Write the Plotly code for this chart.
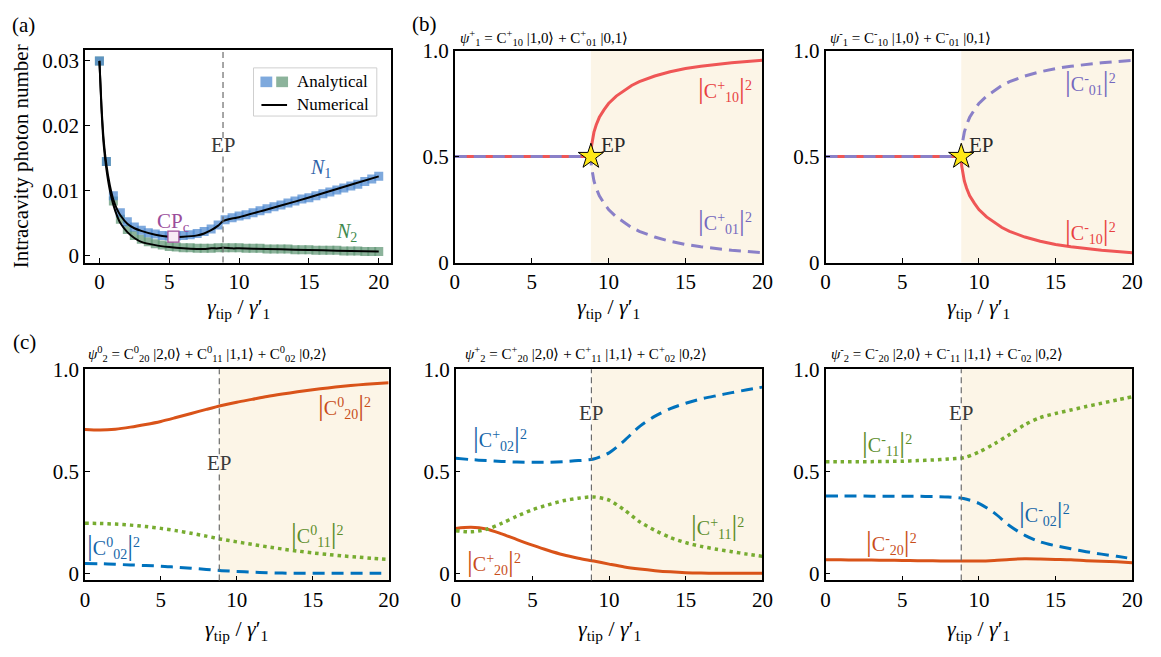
import plotly.graph_objects as go

W, H = 1161, 657
FONT = "Liberation Serif, Times New Roman, Times, serif"
EP = 8.85

# ---------------- Panel (a) data ----------------
xa_sq = [0, 0.5, 1, 1.5, 2, 2.5, 3, 3.5, 4, 4.5, 5, 5.5, 6, 6.5, 7, 7.5, 8, 8.5, 9, 9.5, 10,
         10.5, 11, 11.5, 12, 12.5, 13, 13.5, 14, 14.5, 15, 15.5, 16, 16.5, 17, 17.5, 18, 18.5, 19, 19.5, 20]
N1_sq = [0.0300, 0.0145, 0.0092, 0.0066, 0.0052, 0.0044, 0.0039, 0.0035, 0.0033, 0.0031, 0.0030,
         0.0030, 0.0031, 0.0032, 0.0034, 0.0037, 0.0041, 0.0047, 0.0055, 0.0058, 0.0061,
         0.0063, 0.0066, 0.0069, 0.0072, 0.0075, 0.0078, 0.0081, 0.0084, 0.0087, 0.0089,
         0.0092, 0.0095, 0.0098, 0.0101, 0.0104, 0.0107, 0.0110, 0.0114, 0.0118, 0.0122]
N2_sq = [0.0300, 0.0145, 0.0084, 0.0056, 0.0040, 0.0031, 0.0025, 0.0021, 0.0018, 0.0016, 0.0014,
         0.0013, 0.0012, 0.0012, 0.0011, 0.0011, 0.0011, 0.0012, 0.0012, 0.0012, 0.0012,
         0.0011, 0.0011, 0.0011, 0.0010, 0.0010, 0.0010, 0.0010, 0.0009, 0.0009, 0.0009,
         0.0008, 0.0008, 0.0008, 0.0008, 0.0007, 0.0007, 0.0007, 0.0006, 0.0006, 0.0006]
xa_line = [0, 0.15, 0.3, 0.5, 0.75, 1.0, 1.25, 1.5, 2.0, 2.5, 3.0, 4.0, 5.0, 6.0, 7.0, 7.5, 8.0,
           8.5, 8.85, 9.5, 10, 12, 14, 16, 18, 20]
N1_line = [0.0300, 0.0230, 0.0180, 0.0140, 0.0108, 0.0086, 0.0072, 0.0062, 0.0049, 0.0042, 0.0038,
           0.0032, 0.0029, 0.0029, 0.0031, 0.0034, 0.0039, 0.0046, 0.0053, 0.0057, 0.0059,
           0.0071, 0.0083, 0.0096, 0.0109, 0.0122]
N2_line = [0.0300, 0.0225, 0.0172, 0.0133, 0.0100, 0.0078, 0.0062, 0.0050, 0.0036, 0.0027, 0.0021,
           0.0016, 0.0013, 0.0011, 0.0010, 0.0010, 0.0011, 0.0011, 0.0012, 0.0011, 0.0011,
           0.0010, 0.0009, 0.0008, 0.0007, 0.0006]
CPc_x, CPc_y = [5.3], [0.0029]

# ---------------- Panel (b) data ----------------
xb = [0, 8.85, 8.88, 8.95, 9.05, 9.2, 9.4, 9.7, 10, 10.5, 11, 11.5, 12, 13, 14, 15, 16, 17, 18, 19, 20]
C_major = [0.5, 0.5, 0.545, 0.58, 0.615, 0.65, 0.685, 0.72, 0.75, 0.785, 0.812, 0.835, 0.853,
           0.88, 0.90, 0.915, 0.926, 0.935, 0.942, 0.948, 0.954]
C_minor = [0.5, 0.5, 0.455, 0.42, 0.385, 0.35, 0.315, 0.28, 0.25, 0.215, 0.188, 0.165, 0.147,
           0.12, 0.10, 0.085, 0.074, 0.065, 0.058, 0.052, 0.046]
EP_y = [0.5]

# ---------------- Panel (c) data ----------------
xc = [0, 1, 2, 3, 4, 5, 6, 7, 8, 9, 10, 11, 12, 13, 14, 15, 16, 17, 18, 19, 20]
c0_C20 = [0.705, 0.702, 0.706, 0.716, 0.729, 0.744, 0.763, 0.783, 0.803, 0.822, 0.838, 0.852,
          0.866, 0.878, 0.889, 0.899, 0.908, 0.916, 0.923, 0.929, 0.934]
c0_C11 = [0.245, 0.244, 0.241, 0.236, 0.229, 0.220, 0.209, 0.196, 0.182, 0.167, 0.154, 0.142,
          0.130, 0.119, 0.109, 0.100, 0.092, 0.085, 0.079, 0.073, 0.068]
c0_C02 = [0.048, 0.047, 0.044, 0.041, 0.038, 0.035, 0.030, 0.025, 0.019, 0.013, 0.009, 0.006,
          0.003, 0.001, 0.0, 0.0, 0.0, 0.0, 0.0, 0.0, 0.0]
cp_C02 = [0.563, 0.557, 0.552, 0.548, 0.545, 0.544, 0.544, 0.547, 0.552, 0.560, 0.590, 0.650,
          0.720, 0.770, 0.807, 0.833, 0.854, 0.870, 0.885, 0.899, 0.912]
cp_C11 = [0.209, 0.203, 0.215, 0.245, 0.280, 0.311, 0.335, 0.355, 0.368, 0.374, 0.358, 0.310,
          0.252, 0.210, 0.175, 0.150, 0.132, 0.118, 0.106, 0.094, 0.083]
cp_C20 = [0.220, 0.225, 0.217, 0.193, 0.165, 0.138, 0.113, 0.091, 0.074, 0.060, 0.045, 0.031,
          0.021, 0.013, 0.007, 0.003, 0.001, 0.0, 0.0, 0.0, 0.0]
cm_C11 = [0.547, 0.547, 0.547, 0.547, 0.548, 0.549, 0.552, 0.555, 0.560, 0.566, 0.594, 0.634,
          0.680, 0.728, 0.763, 0.783, 0.800, 0.817, 0.833, 0.849, 0.865]
cm_C02 = [0.379, 0.379, 0.379, 0.378, 0.378, 0.377, 0.377, 0.376, 0.374, 0.366, 0.343, 0.296,
          0.233, 0.186, 0.154, 0.135, 0.120, 0.106, 0.094, 0.083, 0.072]
cm_C20 = [0.066, 0.066, 0.065, 0.065, 0.064, 0.063, 0.062, 0.061, 0.060, 0.060, 0.060, 0.063,
          0.068, 0.071, 0.070, 0.068, 0.066, 0.062, 0.059, 0.056, 0.052]

x_ticks = [0, 5, 10, 15, 20]
x_ticktext = ["0", "5", "10", "15", "20"]
ya_ticks = [0, 0.01, 0.02, 0.03]
ya_ticktext = ["0", "0.01", "0.02", "0.03"]
yp_ticks = [0, 0.5, 1.0]
yp_ticktext = ["0", "0.5", "1.0"]

# colours
RED = "#EF5656"
PURPLE = "#8A80C8"
ORANGE = "#D95319"
BLUE = "#0072BD"
GREEN = "#77AC30"
SHADE = "#FCF5E7"


def px(x):
    return x / W


def py(y):
    return 1 - y / H


# panel boxes in pixels: (left, right, top, bottom)
boxes = {
    "a": (81, 391, 39.3, 260),
    "b1": (456, 768, 40, 260),
    "b2": (832, 1143, 40, 260),
    "c1": (81, 389, 370.7, 590),
    "c2": (457, 768, 370.7, 590),
    "c3": (832, 1143, 370.7, 590),
}

fig = go.Figure()

# ---- Panel (a) traces
fig.add_trace(go.Scatter(x=xa_sq, y=N2_sq, mode="markers", xaxis="x", yaxis="y",
                         marker=dict(symbol="square", size=9, color="rgba(96,150,116,0.72)",
                                     line=dict(width=0)), showlegend=False))
fig.add_trace(go.Scatter(x=xa_sq, y=N1_sq, mode="markers", xaxis="x", yaxis="y",
                         marker=dict(symbol="square", size=9, color="rgba(76,136,208,0.72)",
                                     line=dict(width=0)), showlegend=False))
for yy in (N1_line, N2_line):
    fig.add_trace(go.Scatter(x=xa_line, y=yy, mode="lines", xaxis="x", yaxis="y",
                             line=dict(color="black", width=2, shape="spline", smoothing=0.6),
                             showlegend=False))
fig.add_trace(go.Scatter(x=CPc_x, y=CPc_y, mode="markers", xaxis="x", yaxis="y",
                         marker=dict(symbol="square", size=11, color="#F8ECF5",
                                     line=dict(color="#A0509A", width=1.3)), showlegend=False))

# ---- Panel (b) traces
fig.add_trace(go.Scatter(x=xb, y=C_major, mode="lines", xaxis="x2", yaxis="y2",
                         line=dict(color=RED, width=3), showlegend=False))
fig.add_trace(go.Scatter(x=xb, y=C_minor, mode="lines", xaxis="x2", yaxis="y2",
                         line=dict(color=PURPLE, width=3, dash="12px,7px"), showlegend=False))
fig.add_trace(go.Scatter(x=xb, y=C_minor, mode="lines", xaxis="x3", yaxis="y3",
                         line=dict(color=RED, width=3), showlegend=False))
fig.add_trace(go.Scatter(x=xb, y=C_major, mode="lines", xaxis="x3", yaxis="y3",
                         line=dict(color=PURPLE, width=3, dash="12px,7px"), showlegend=False))
for xa_, ya_ in (("x2", "y2"), ("x3", "y3")):
    fig.add_trace(go.Scatter(x=[EP], y=EP_y, mode="markers", xaxis=xa_, yaxis=ya_,
                             marker=dict(symbol="star", size=19, color="#FFE817",
                                         line=dict(color="black", width=1)), showlegend=False))

# ---- Panel (c) traces
c_sets = [
    ("x4", "y4", c0_C20, c0_C11, c0_C02),
    ("x5", "y5", cp_C20, cp_C11, cp_C02),
    ("x6", "y6", cm_C20, cm_C11, cm_C02),
]
for xa_, ya_, c20, c11, c02 in c_sets:
    fig.add_trace(go.Scatter(x=xc, y=c20, mode="lines", xaxis=xa_, yaxis=ya_,
                             line=dict(color=ORANGE, width=3, shape="spline", smoothing=0.8),
                             showlegend=False))
    fig.add_trace(go.Scatter(x=xc, y=c02, mode="lines", xaxis=xa_, yaxis=ya_,
                             line=dict(color=BLUE, width=3, dash="12px,7px", shape="spline",
                                       smoothing=0.8), showlegend=False))
    fig.add_trace(go.Scatter(x=xc, y=c11, mode="lines", xaxis=xa_, yaxis=ya_,
                             line=dict(color=GREEN, width=3.5, dash="3.5px,4px", shape="spline",
                                       smoothing=0.8), showlegend=False))


# ---- Axes
def make_axes(key, xrange, yrange, yticks, yticktext):
    l, r, t, b = boxes[key]
    common = dict(showline=True, mirror=True, linecolor="black", linewidth=1.5,
                  ticks="inside", ticklen=5, tickwidth=1.3, tickcolor="black",
                  showgrid=False, zeroline=False,
                  tickfont=dict(family=FONT, size=21, color="black"))
    xa = dict(domain=[px(l), px(r)], range=xrange, tickvals=x_ticks, ticktext=x_ticktext, **common)
    ya = dict(domain=[py(b), py(t)], range=yrange, tickvals=yticks, ticktext=yticktext, **common)
    return xa, ya


layout_axes = {}
specs = [
    ("a", "", [-1.04, 20.85], [-0.00108, 0.0317], ya_ticks, ya_ticktext),
    ("b1", "2", [0, 20], [0, 1], yp_ticks, yp_ticktext),
    ("b2", "3", [0, 20], [0, 1], yp_ticks, yp_ticktext),
    ("c1", "4", [0, 20], [-0.035, 1.0], yp_ticks, yp_ticktext),
    ("c2", "5", [0, 20], [-0.035, 1.0], yp_ticks, yp_ticktext),
    ("c3", "6", [0, 20], [-0.035, 1.0], yp_ticks, yp_ticktext),
]
for key, n, xr, yr, yt, ytt in specs:
    xa, ya = make_axes(key, xr, yr, yt, ytt)
    xa["anchor"] = "y" + n
    ya["anchor"] = "x" + n
    layout_axes["xaxis" + n] = xa
    layout_axes["yaxis" + n] = ya

shapes = []
# shaded regions after EP
for n in ["2", "3", "4", "5", "6"]:
    shapes.append(dict(type="rect", xref="x" + n, yref="y" + n + " domain", x0=EP, x1=20,
                       y0=0, y1=1, fillcolor=SHADE, line=dict(width=0), layer="below"))
# dashed EP lines with a gap for the label
gaps = {"": (0.586, 0.50), "4": (0.597, 0.511), "5": (0.839, 0.739), "6": (0.839, 0.739)}
for n, (g1, g0) in gaps.items():
    for (y0, y1) in ((g1, 1), (0, g0)):
        shapes.append(dict(type="line", xref="x" + n, yref="y" + n + " domain", x0=EP, x1=EP,
                           y0=y0, y1=y1, line=dict(color="#6b6b6b", width=1.2, dash="6px,4px")))
# manual legend of panel (a)
shapes.append(dict(type="rect", xref="paper", yref="paper", x0=px(252), x1=px(377),
                   y0=py(108), y1=py(58), line=dict(color="#cfcfcf", width=1),
                   fillcolor="white"))
shapes.append(dict(type="rect", xref="paper", yref="paper", x0=px(259), x1=px(271),
                   y0=py(78), y1=py(67), line=dict(width=0), fillcolor="rgba(76,136,208,0.72)"))
shapes.append(dict(type="rect", xref="paper", yref="paper", x0=px(275), x1=px(287),
                   y0=py(78), y1=py(67), line=dict(width=0), fillcolor="rgba(96,150,116,0.72)"))
shapes.append(dict(type="line", xref="paper", yref="paper", x0=px(260), x1=px(286),
                   y0=py(96.5), y1=py(96.5), line=dict(color="black", width=2)))

ann = []


def A(text, x, y, xref="paper", yref="paper", size=19, color="black", **kw):
    d = dict(text=text, x=x, y=y, xref=xref, yref=yref, showarrow=False,
             xanchor="center", yanchor="middle",
             font=dict(family=FONT, size=size, color=color))
    d.update(kw)
    ann.append(d)


BAR = "<span style='font-size:29px'>|</span>"


def clab(sup, sub):
    return BAR + "C<sup>" + sup + "</sup><sub>" + sub + "</sub>" + BAR + "<sup>2</sup>"


# panel letters
A("(a)", px(19), py(13), size=21)
A("(b)", px(425), py(12), size=21)
A("(c)", px(20), py(343), size=21)

# axis titles
xt = "<i>γ</i><sub>tip</sub> / <i>γ</i>′<sub>1</sub>"
for key in ["a", "b1", "b2"]:
    l, r, t, b = boxes[key]
    cx = 237 if key == "a" else (l + r) / 2
    A(xt, px(cx), py(307), size=22)
for key in ["c1", "c2", "c3"]:
    l, r, t, b = boxes[key]
    A(xt, px((l + r) / 2), py(641), size=22)
A("Intracavity photon number", px(16), py(150), size=21, textangle=-90)

# legend text
A("Analytical", px(294), py(72.5), size=17, xanchor="left")
A("Numerical", px(294), py(96.5), size=17, xanchor="left")

# panel titles
A("<i>ψ</i><sup>+</sup><sub>1</sub> = C<sup>+</sup><sub>10</sub> |1,0⟩ + C<sup>+</sup><sub>01</sub> |0,1⟩",
  px(459), py(27), size=15, xanchor="left")
A("<i>ψ</i><sup>-</sup><sub>1</sub> = C<sup>-</sup><sub>10</sub> |1,0⟩ + C<sup>-</sup><sub>01</sub> |0,1⟩",
  px(834), py(27), size=15, xanchor="left")
A("<i>ψ</i><sup>0</sup><sub>2</sub> = C<sup>0</sup><sub>20</sub> |2,0⟩ + C<sup>0</sup><sub>11</sub> |1,1⟩ + C<sup>0</sup><sub>02</sub> |0,2⟩",
  px(82), py(355), size=15, xanchor="left")
A("<i>ψ</i><sup>+</sup><sub>2</sub> = C<sup>+</sup><sub>20</sub> |2,0⟩ + C<sup>+</sup><sub>11</sub> |1,1⟩ + C<sup>+</sup><sub>02</sub> |0,2⟩",
  px(464), py(355), size=15, xanchor="left")
A("<i>ψ</i><sup>-</sup><sub>2</sub> = C<sup>-</sup><sub>20</sub> |2,0⟩ + C<sup>-</sup><sub>11</sub> |1,1⟩ + C<sup>-</sup><sub>02</sub> |0,2⟩",
  px(836), py(355), size=15, xanchor="left")

# panel (a) labels
A("EP", EP, 0.0171, "x", "y", size=21, color="#3a3a3a")
A("CP<sub>c</sub>", 5.3, 0.0052, "x", "y", size=21, color="#9B4E9B")
A("<i>N</i><sub>1</sub>", 15.8, 0.0134, "x", "y", size=20, color="#2F63A8")
A("<i>N</i><sub>2</sub>", 17.7, 0.0036, "x", "y", size=20, color="#3F8A4F")

# panel (b) labels
A("EP", 10.3, 0.555, "x2", "y2", size=21, color="#2a2a2a")
A(clab("+", "10"), 17.6, 0.82, "x2", "y2", size=20, color="#E8413F")
A(clab("+", "01"), 17.6, 0.20, "x2", "y2", size=20, color="#7468BE")
A("EP", 10.2, 0.555, "x3", "y3", size=21, color="#2a2a2a")
A(clab("-", "01"), 17.3, 0.856, "x3", "y3", size=20, color="#7468BE")
A(clab("-", "10"), 17.3, 0.15, "x3", "y3", size=20, color="#E8413F")

# panel (c) labels
LO, LB, LG = "#C84E1A", "#1566A8", "#5C8D2A"
A("EP", EP, 0.54, "x4", "y4", size=21, color="#3a3a3a")
A(clab("0", "20"), 17.1, 0.822, "x4", "y4", size=20, color=LO)
A(clab("0", "11"), 15.3, 0.193, "x4", "y4", size=20, color=LG)
A(clab("0", "02"), 1.9, 0.138, "x4", "y4", size=20, color=LB)

A("EP", EP, 0.783, "x5", "y5", size=21, color="#3a3a3a")
A(clab("+", "02"), 2.9, 0.665, "x5", "y5", size=20, color=LB)
A(clab("+", "11"), 17.1, 0.233, "x5", "y5", size=20, color=LG)
A(clab("+", "20"), 2.5, 0.06, "x5", "y5", size=20, color=LO)

A("EP", EP, 0.783, "x6", "y6", size=21, color="#3a3a3a")
A(clab("-", "11"), 4.0, 0.64, "x6", "y6", size=20, color=LG)
A(clab("-", "02"), 14.3, 0.296, "x6", "y6", size=20, color=LB)
A(clab("-", "20"), 4.3, 0.154, "x6", "y6", size=20, color=LO)

fig.update_layout(
    width=W, height=H,
    margin=dict(l=0, r=0, t=0, b=0),
    paper_bgcolor="white", plot_bgcolor="rgba(0,0,0,0)",
    font=dict(family=FONT, size=17, color="black"),
    showlegend=False,
    shapes=shapes,
    annotations=ann,
    **layout_axes,
)

fig.write_html("out.html")
